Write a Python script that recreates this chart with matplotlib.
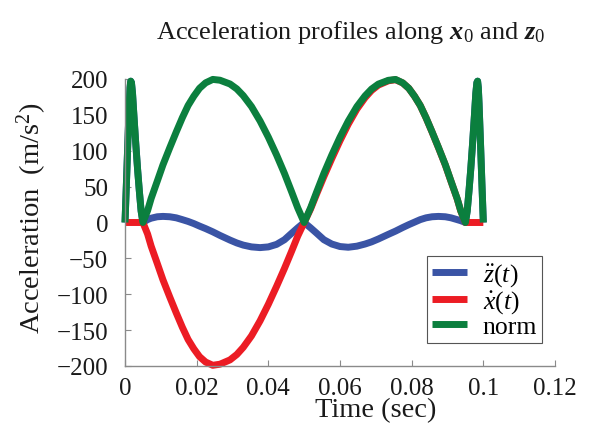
import numpy as np
import matplotlib
matplotlib.use("Agg")
import matplotlib.pyplot as plt

plt.rcParams["font.family"] = ["Liberation Serif", "DejaVu Serif"]
plt.rcParams["mathtext.fontset"] = "custom"
plt.rcParams["mathtext.rm"] = "Liberation Serif"
plt.rcParams["mathtext.it"] = "Liberation Serif:italic"
plt.rcParams["mathtext.bf"] = "Liberation Serif:bold:italic"

# time samples (s)
time_s = [
    0.0, 0.0004, 0.0008, 0.0012, 0.0014, 0.0016, 0.0018, 0.0021, 0.0025,
    0.0030, 0.0035, 0.0040, 0.0045, 0.0050,
    0.0063, 0.0073, 0.0090, 0.0106, 0.0125, 0.0143, 0.0160, 0.0176, 0.0192,
    0.0208, 0.0225, 0.0245, 0.0265, 0.0293, 0.0312, 0.0330, 0.0353, 0.0377,
    0.0400, 0.0423, 0.0445, 0.0465, 0.0482, 0.0500,
    0.0518, 0.0535, 0.0555, 0.0577, 0.0600, 0.0623, 0.0647, 0.0670, 0.0688,
    0.0707, 0.0735, 0.0755, 0.0775, 0.0792, 0.0808, 0.0824, 0.0840, 0.0857,
    0.0875, 0.0894, 0.0910, 0.0927, 0.0937, 0.0950,
    0.0955, 0.0960, 0.0965, 0.0970, 0.0975, 0.0979, 0.0982, 0.0984, 0.0986,
    0.0988, 0.0992, 0.0996, 0.1000,
]

# vertical acceleration z''(t) (m/s^2)
z_acc = [
    0, 55, 112, 166, 188, 197, 195, 180, 148,
    110, 75, 44, 16, 0,
    4, 6, 8, 8.5, 8, 6.5, 4, 1.5, -1.5,
    -5, -8.5, -13, -18, -24.5, -28.5, -31.5, -34, -35,
    -34, -30.5, -24, -15, -7.5, 0,
    -7.5, -15, -24, -30, -33.5, -34.5, -33, -30, -27,
    -23, -16.5, -12, -7, -3, 0.5, 4, 6.5, 8,
    8.5, 8, 6.5, 4, 2.5, 0,
    16, 44, 75, 110, 148, 180, 195, 197, 188,
    166, 112, 55, 0,
]

# horizontal acceleration x''(t) (m/s^2)
x_acc = [
    0, 0, 0, 0, 0, 0, 0, 0, 0,
    0, 0, 0, 0, 0,
    -16, -33, -57, -80, -104, -126, -146, -163, -176,
    -187, -194.5, -199, -197.5, -191.5, -184, -174, -158, -137,
    -114, -89, -64, -40, -19, 0,
    19, 40, 64, 89, 114, 137, 158, 174, 184,
    191.5, 197.5, 199, 194.5, 187, 176, 163, 146, 126,
    104, 80, 57, 33, 16, 0,
    0, 0, 0, 0, 0, 0, 0, 0, 0,
    0, 0, 0, 0,
]

t = np.array(time_s)
zdd = np.array(z_acc, dtype=float)
xdd = np.array(x_acc, dtype=float)
norm = np.hypot(xdd, zdd)

x_ticks = [0, 0.02, 0.04, 0.06, 0.08, 0.1, 0.12]
x_tick_labels = ["0", "0.02", "0.04", "0.06", "0.08", "0.1", "0.12"]
y_ticks = [-200, -150, -100, -50, 0, 50, 100, 150, 200]

blue = "#3a54a5"
red = "#ec1c24"
green = "#0b7f3e"
axis_gray = "#8a8a8a"
text_color = "#1a1a1a"

fig = plt.figure(figsize=(6.05, 4.27), dpi=100)
ax = fig.add_axes([125 / 605, 1 - 367 / 427, 430 / 605, 287 / 427])

lw = 5.0
style = dict(lw=lw, solid_capstyle="butt", solid_joinstyle="round", clip_on=False)
ax.plot(t, zdd, color=blue, label=r"$\ddot{z}(t)$", **style)
ax.plot(t, xdd, color=red, label=r"$\dot{x}(t)$", **style)
ax.plot(t, norm, color=green, label="norm", **style)

ax.set_xlim(0, 0.12)
ax.set_ylim(-200, 200)
ax.set_xticks(x_ticks)
ax.set_xticklabels(x_tick_labels)
ax.set_yticks(y_ticks)

for side in ("top", "right"):
    ax.spines[side].set_visible(False)
for side in ("left", "bottom"):
    ax.spines[side].set_color(axis_gray)
    ax.spines[side].set_linewidth(1.0)

ax.tick_params(axis="both", direction="in", length=4, width=0.8,
               color=axis_gray, labelsize=18, labelcolor=text_color)
ax.tick_params(axis="y", pad=12)
ax.tick_params(axis="x", pad=8)

ax.set_xlabel("Time (sec)", fontsize=20.5, color=text_color)
ax.xaxis.set_label_coords((376 - 125) / 430, -0.11)

fig.text(32 / 605, 1 - 218 / 427, r"Acceleration  (m/s$^2$)",
         rotation=90, ha="center", va="center", fontsize=20.5, color=text_color)

fig.text(351 / 605, 1 - 32 / 427,
         r"Acceleration profiles along $\mathbf{x}_0$ and $\mathbf{z}_0$",
         ha="center", va="center", fontsize=19, color=text_color)

leg = ax.legend(loc="lower right", bbox_to_anchor=(0.970, 0.080), fontsize=18.5,
                frameon=True, fancybox=False, framealpha=1, edgecolor="#555555",
                handlelength=1.35, handletextpad=0.6, labelspacing=0.0,
                borderpad=0.2, borderaxespad=0)
leg.get_frame().set_linewidth(0.8)

fig.savefig("out.png", dpi=100)
